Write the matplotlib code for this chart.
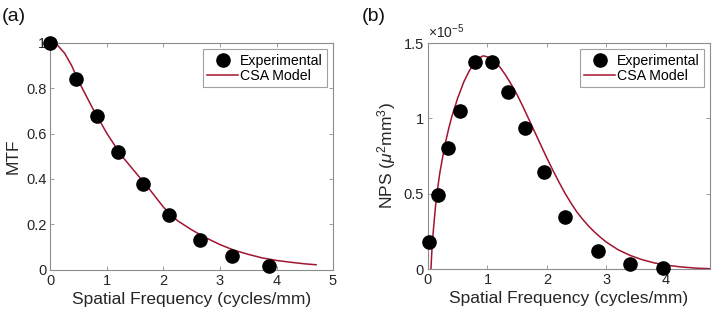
import matplotlib
matplotlib.use("Agg")
import matplotlib.pyplot as plt
from matplotlib.ticker import FuncFormatter

plt.rcParams['font.family'] = ['Liberation Sans', 'DejaVu Sans']
plt.rcParams['mathtext.fontset'] = 'custom'
plt.rcParams['mathtext.rm'] = 'Liberation Sans'
plt.rcParams['mathtext.it'] = 'Liberation Sans:italic'

# ---- Panel (a): MTF ----
mtf_freq = [0.0, 0.46, 0.815, 1.196, 1.64, 2.10, 2.64, 3.22, 3.86]
mtf_exp = [1.0, 0.84, 0.678, 0.517, 0.379, 0.242, 0.130, 0.060, 0.015]
mtf_model_freq = [0.0, 0.125, 0.25, 0.375, 0.5, 0.75, 1.0, 1.25, 1.5, 1.75, 2.0, 2.25, 2.5,
                  2.75, 3.0, 3.25, 3.5, 3.75, 4.0, 4.25, 4.5, 4.7]
mtf_model = [1.0, 0.99, 0.955, 0.9, 0.83, 0.71, 0.60, 0.505, 0.43, 0.355, 0.275, 0.215, 0.175,
             0.14, 0.11, 0.085, 0.067, 0.051, 0.04, 0.032, 0.025, 0.021]

# ---- Panel (b): NPS (units of 1e-5) ----
nps_freq = [0.017, 0.173, 0.33, 0.53, 0.79, 1.07, 1.35, 1.63, 1.95, 2.30, 2.85, 3.39, 3.955]
nps_exp = [0.177, 0.491, 0.805, 1.048, 1.372, 1.372, 1.173, 0.934, 0.646, 0.347, 0.121, 0.033, 0.009]
nps_model_freq = [0.05, 0.06, 0.07, 0.085, 0.1, 0.125, 0.15, 0.2, 0.25, 0.3, 0.35, 0.4, 0.5,
                  0.6, 0.7, 0.8, 0.87, 0.93, 1.0, 1.1, 1.2, 1.3, 1.4, 1.5, 1.6, 1.7, 1.8,
                  1.9, 2.0, 2.1, 2.2, 2.3, 2.4, 2.5, 2.6, 2.7, 2.8, 2.9, 3.0, 3.2, 3.4,
                  3.6, 3.8, 4.0, 4.25, 4.5, 4.74]
nps_model = [0.0, 0.08, 0.15, 0.23, 0.3, 0.41, 0.5, 0.64, 0.75, 0.85, 0.935, 1.01, 1.135,
             1.24, 1.32, 1.375, 1.403, 1.415, 1.408, 1.385, 1.345, 1.29, 1.225, 1.155, 1.075,
             0.99, 0.905, 0.82, 0.735, 0.655, 0.578, 0.505, 0.44, 0.38, 0.33, 0.285, 0.245,
             0.21, 0.178, 0.127, 0.09, 0.062, 0.041, 0.026, 0.014, 0.006, 0.002]

model_color = '#A2142F'
spine_color = '#8c8c8c'

fig = plt.figure(figsize=(7.14, 3.18), dpi=100)
ax1 = fig.add_axes([0.0707, 0.1525, 0.3957, 0.7123])
ax2 = fig.add_axes([0.5994, 0.154, 0.395, 0.7107])


def style(ax):
    for s in ax.spines.values():
        s.set_color(spine_color)
        s.set_linewidth(0.8)
    ax.tick_params(direction='in', top=True, right=True, length=3, width=0.6,
                   color=spine_color, labelsize=10.5, labelcolor='#262626', pad=3)


def fmt(v, pos):
    return '%g' % v


def legend(ax):
    h, l = ax.get_legend_handles_labels()
    leg = ax.legend(h[::-1], l[::-1], loc='upper right', fontsize=10.2, fancybox=False,
                    edgecolor='#a0a0a0', framealpha=1, borderpad=0.3, handlelength=2.2,
                    handletextpad=0.1, labelspacing=0.1, borderaxespad=0.45)
    leg.get_frame().set_linewidth(0.8)


# Panel a
ax1.plot(mtf_model_freq, mtf_model, color=model_color, lw=1.1, label='CSA Model', zorder=2)
ax1.plot(mtf_freq, mtf_exp, 'o', color='black', ms=9.5, label='Experimental', zorder=3, clip_on=False)
ax1.set_xlim(0, 5)
ax1.set_ylim(0, 1)
ax1.set_xticks([0, 1, 2, 3, 4, 5])
ax1.set_yticks([0, 0.2, 0.4, 0.6, 0.8, 1.0])
ax1.xaxis.set_major_formatter(FuncFormatter(fmt))
ax1.yaxis.set_major_formatter(FuncFormatter(fmt))
ax1.set_xlabel('Spatial Frequency (cycles/mm)', fontsize=12.5, color='#262626', labelpad=3)
ax1.set_ylabel('MTF', fontsize=12.5, color='#262626', labelpad=4)
style(ax1)
legend(ax1)

# Panel b
ax2.plot(nps_model_freq, nps_model, color=model_color, lw=1.1, label='CSA Model', zorder=2)
ax2.plot(nps_freq, nps_exp, 'o', color='black', ms=9.5, label='Experimental', zorder=3, clip_on=False)
ax2.set_xlim(0, 4.74)
ax2.set_ylim(0, 1.5)
ax2.set_xticks([0, 1, 2, 3, 4])
ax2.set_yticks([0, 0.5, 1.0, 1.5])
ax2.xaxis.set_major_formatter(FuncFormatter(fmt))
ax2.yaxis.set_major_formatter(FuncFormatter(fmt))
ax2.set_xlabel('Spatial Frequency (cycles/mm)', fontsize=12.5, color='#262626', labelpad=3)
ax2.set_ylabel(r'NPS ($\mu^2$mm$^3$)', fontsize=12.5, color='#262626', labelpad=4)
style(ax2)
ax2.text(0.0, 1.01, r'$\times10^{-5}$', transform=ax2.transAxes, fontsize=10,
         color='#262626', ha='left', va='bottom')
legend(ax2)

fig.text(0.003, 0.975, '(a)', fontsize=14, ha='left', va='top', color='#111111')
fig.text(0.507, 0.975, '(b)', fontsize=14, ha='left', va='top', color='#111111')

fig.savefig('out.png', dpi=100)
